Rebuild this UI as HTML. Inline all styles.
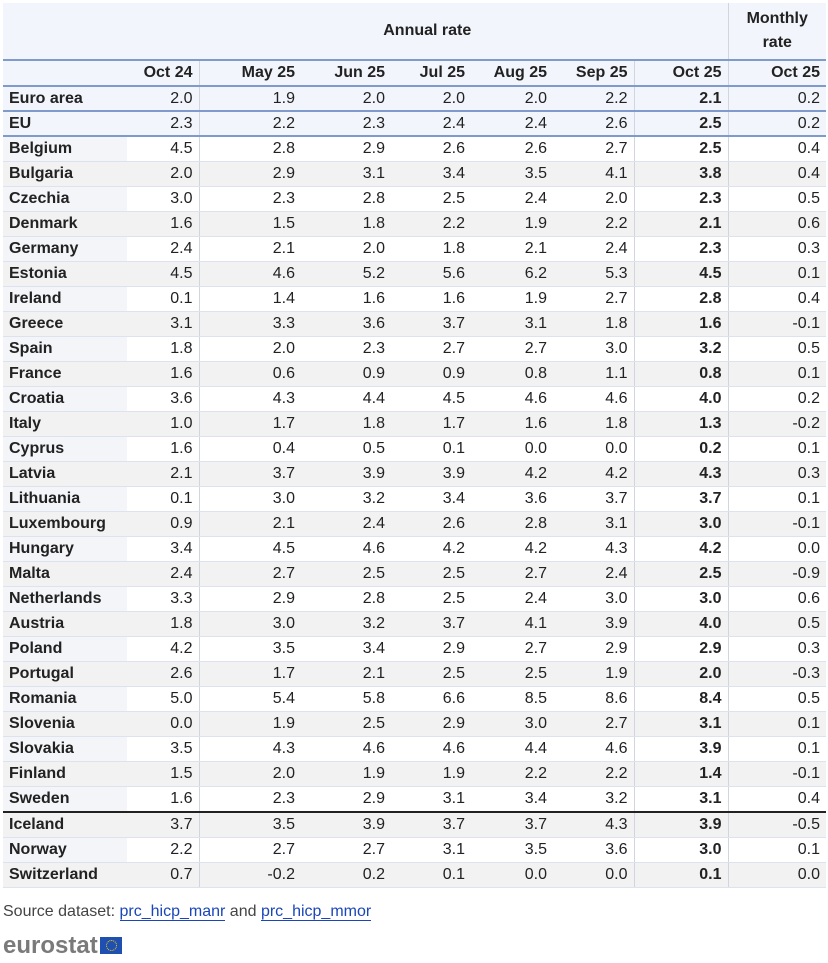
<!DOCTYPE html>
<html><head><meta charset="utf-8"><style>
body{margin:0;background:#fff;font-family:"Liberation Sans",Arial,sans-serif;color:#222;width:828px;height:963px;overflow:hidden;position:relative}
table{position:absolute;left:3px;top:3px;border-collapse:collapse;table-layout:fixed;width:823px;font-size:16px}
td{padding:0 6px;height:24px;text-align:right;border-bottom:1px solid #dde3ee;white-space:nowrap;overflow:hidden}
td.l{text-align:left;font-weight:bold;background:#f3f5f9;padding-left:6px}
td.b{font-weight:bold}
td.v1,td.v2,td.v3{border-right:1px solid #d0d6e0}
tr.g td{background:#f2f2f2}
tr.e td{background:#f2f6fc;border-bottom:2px solid #7f9bcc;height:23px}
tr.h1 td{background:#f2f6fc;height:56px;font-weight:bold;text-align:center;border-bottom:2px solid #7f9bcc;line-height:24px}
tr.h2 td{background:#f2f6fc;font-weight:bold;border-bottom:2px solid #7f9bcc;height:24px}
tr.sep td{border-bottom:2px solid #222}
.src{position:absolute;left:3px;top:903px;font-size:16px;color:#444}
.src a{color:#1a46b8;text-decoration:none;border-bottom:1px solid #1a46b8}
.logo{position:absolute;left:3px;top:932px;font-size:24px;font-weight:bold;color:#7a7a7a}
.flag{position:absolute;left:100px;top:937px;width:22px;height:17px;background:#1f4fb0}
.flag:after{content:"";position:absolute;left:6px;top:3px;width:9px;height:9px;border:1px dotted #f5d400;border-radius:50%}
</style></head><body>
<table>
<colgroup><col style="width:124px"><col style="width:72px"><col style="width:102px"><col style="width:90px"><col style="width:80px"><col style="width:82px"><col style="width:81px"><col style="width:94px"><col style="width:98px"></colgroup>
<tr class="h1"><td></td><td colspan="7" class="v3">Annual rate</td><td>Monthly<br>rate</td></tr>
<tr class="h2"><td></td><td class="v1">Oct 24</td><td>May 25</td><td>Jun 25</td><td>Jul 25</td><td>Aug 25</td><td class="v2">Sep 25</td><td class="v3">Oct 25</td><td>Oct 25</td></tr>
<tr class="e"><td class="l">Euro area</td><td class="v1">2.0</td><td>1.9</td><td>2.0</td><td>2.0</td><td>2.0</td><td class="v2">2.2</td><td class="b v3">2.1</td><td>0.2</td></tr>
<tr class="e"><td class="l">EU</td><td class="v1">2.3</td><td>2.2</td><td>2.3</td><td>2.4</td><td>2.4</td><td class="v2">2.6</td><td class="b v3">2.5</td><td>0.2</td></tr>
<tr><td class="l">Belgium</td><td class="v1">4.5</td><td>2.8</td><td>2.9</td><td>2.6</td><td>2.6</td><td class="v2">2.7</td><td class="b v3">2.5</td><td>0.4</td></tr>
<tr class="g"><td class="l">Bulgaria</td><td class="v1">2.0</td><td>2.9</td><td>3.1</td><td>3.4</td><td>3.5</td><td class="v2">4.1</td><td class="b v3">3.8</td><td>0.4</td></tr>
<tr><td class="l">Czechia</td><td class="v1">3.0</td><td>2.3</td><td>2.8</td><td>2.5</td><td>2.4</td><td class="v2">2.0</td><td class="b v3">2.3</td><td>0.5</td></tr>
<tr class="g"><td class="l">Denmark</td><td class="v1">1.6</td><td>1.5</td><td>1.8</td><td>2.2</td><td>1.9</td><td class="v2">2.2</td><td class="b v3">2.1</td><td>0.6</td></tr>
<tr><td class="l">Germany</td><td class="v1">2.4</td><td>2.1</td><td>2.0</td><td>1.8</td><td>2.1</td><td class="v2">2.4</td><td class="b v3">2.3</td><td>0.3</td></tr>
<tr class="g"><td class="l">Estonia</td><td class="v1">4.5</td><td>4.6</td><td>5.2</td><td>5.6</td><td>6.2</td><td class="v2">5.3</td><td class="b v3">4.5</td><td>0.1</td></tr>
<tr><td class="l">Ireland</td><td class="v1">0.1</td><td>1.4</td><td>1.6</td><td>1.6</td><td>1.9</td><td class="v2">2.7</td><td class="b v3">2.8</td><td>0.4</td></tr>
<tr class="g"><td class="l">Greece</td><td class="v1">3.1</td><td>3.3</td><td>3.6</td><td>3.7</td><td>3.1</td><td class="v2">1.8</td><td class="b v3">1.6</td><td>-0.1</td></tr>
<tr><td class="l">Spain</td><td class="v1">1.8</td><td>2.0</td><td>2.3</td><td>2.7</td><td>2.7</td><td class="v2">3.0</td><td class="b v3">3.2</td><td>0.5</td></tr>
<tr class="g"><td class="l">France</td><td class="v1">1.6</td><td>0.6</td><td>0.9</td><td>0.9</td><td>0.8</td><td class="v2">1.1</td><td class="b v3">0.8</td><td>0.1</td></tr>
<tr><td class="l">Croatia</td><td class="v1">3.6</td><td>4.3</td><td>4.4</td><td>4.5</td><td>4.6</td><td class="v2">4.6</td><td class="b v3">4.0</td><td>0.2</td></tr>
<tr class="g"><td class="l">Italy</td><td class="v1">1.0</td><td>1.7</td><td>1.8</td><td>1.7</td><td>1.6</td><td class="v2">1.8</td><td class="b v3">1.3</td><td>-0.2</td></tr>
<tr><td class="l">Cyprus</td><td class="v1">1.6</td><td>0.4</td><td>0.5</td><td>0.1</td><td>0.0</td><td class="v2">0.0</td><td class="b v3">0.2</td><td>0.1</td></tr>
<tr class="g"><td class="l">Latvia</td><td class="v1">2.1</td><td>3.7</td><td>3.9</td><td>3.9</td><td>4.2</td><td class="v2">4.2</td><td class="b v3">4.3</td><td>0.3</td></tr>
<tr><td class="l">Lithuania</td><td class="v1">0.1</td><td>3.0</td><td>3.2</td><td>3.4</td><td>3.6</td><td class="v2">3.7</td><td class="b v3">3.7</td><td>0.1</td></tr>
<tr class="g"><td class="l">Luxembourg</td><td class="v1">0.9</td><td>2.1</td><td>2.4</td><td>2.6</td><td>2.8</td><td class="v2">3.1</td><td class="b v3">3.0</td><td>-0.1</td></tr>
<tr><td class="l">Hungary</td><td class="v1">3.4</td><td>4.5</td><td>4.6</td><td>4.2</td><td>4.2</td><td class="v2">4.3</td><td class="b v3">4.2</td><td>0.0</td></tr>
<tr class="g"><td class="l">Malta</td><td class="v1">2.4</td><td>2.7</td><td>2.5</td><td>2.5</td><td>2.7</td><td class="v2">2.4</td><td class="b v3">2.5</td><td>-0.9</td></tr>
<tr><td class="l">Netherlands</td><td class="v1">3.3</td><td>2.9</td><td>2.8</td><td>2.5</td><td>2.4</td><td class="v2">3.0</td><td class="b v3">3.0</td><td>0.6</td></tr>
<tr class="g"><td class="l">Austria</td><td class="v1">1.8</td><td>3.0</td><td>3.2</td><td>3.7</td><td>4.1</td><td class="v2">3.9</td><td class="b v3">4.0</td><td>0.5</td></tr>
<tr><td class="l">Poland</td><td class="v1">4.2</td><td>3.5</td><td>3.4</td><td>2.9</td><td>2.7</td><td class="v2">2.9</td><td class="b v3">2.9</td><td>0.3</td></tr>
<tr class="g"><td class="l">Portugal</td><td class="v1">2.6</td><td>1.7</td><td>2.1</td><td>2.5</td><td>2.5</td><td class="v2">1.9</td><td class="b v3">2.0</td><td>-0.3</td></tr>
<tr><td class="l">Romania</td><td class="v1">5.0</td><td>5.4</td><td>5.8</td><td>6.6</td><td>8.5</td><td class="v2">8.6</td><td class="b v3">8.4</td><td>0.5</td></tr>
<tr class="g"><td class="l">Slovenia</td><td class="v1">0.0</td><td>1.9</td><td>2.5</td><td>2.9</td><td>3.0</td><td class="v2">2.7</td><td class="b v3">3.1</td><td>0.1</td></tr>
<tr><td class="l">Slovakia</td><td class="v1">3.5</td><td>4.3</td><td>4.6</td><td>4.6</td><td>4.4</td><td class="v2">4.6</td><td class="b v3">3.9</td><td>0.1</td></tr>
<tr class="g"><td class="l">Finland</td><td class="v1">1.5</td><td>2.0</td><td>1.9</td><td>1.9</td><td>2.2</td><td class="v2">2.2</td><td class="b v3">1.4</td><td>-0.1</td></tr>
<tr class="sep"><td class="l">Sweden</td><td class="v1">1.6</td><td>2.3</td><td>2.9</td><td>3.1</td><td>3.4</td><td class="v2">3.2</td><td class="b v3">3.1</td><td>0.4</td></tr>
<tr class="g"><td class="l">Iceland</td><td class="v1">3.7</td><td>3.5</td><td>3.9</td><td>3.7</td><td>3.7</td><td class="v2">4.3</td><td class="b v3">3.9</td><td>-0.5</td></tr>
<tr><td class="l">Norway</td><td class="v1">2.2</td><td>2.7</td><td>2.7</td><td>3.1</td><td>3.5</td><td class="v2">3.6</td><td class="b v3">3.0</td><td>0.1</td></tr>
<tr class="g"><td class="l">Switzerland</td><td class="v1">0.7</td><td>-0.2</td><td>0.2</td><td>0.1</td><td>0.0</td><td class="v2">0.0</td><td class="b v3">0.1</td><td>0.0</td></tr>
</table>
<div class="src">Source dataset: <a>prc_hicp_manr</a> and <a>prc_hicp_mmor</a></div>
<div class="logo">eurostat</div>
<div class="flag"></div>
</body></html>
